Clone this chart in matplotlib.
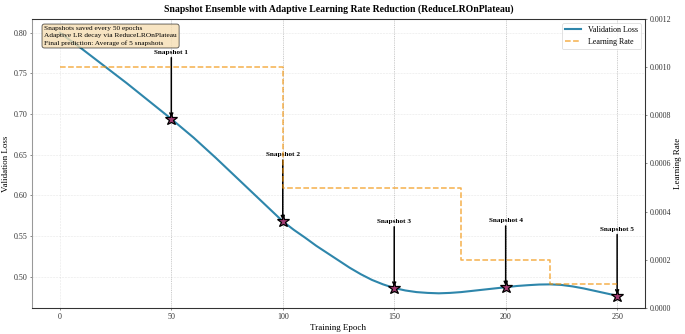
import matplotlib
matplotlib.use("Agg")
import matplotlib.pyplot as plt

plt.rcParams["font.family"] = ["Liberation Serif", "DejaVu Serif"]

# data
epochs = list(range(0, 251, 5))
val_loss = [
    0.800, 0.790, 0.780, 0.7695, 0.759, 0.7485, 0.738, 0.727, 0.716, 0.705,
    0.694, 0.6825, 0.671, 0.6585, 0.646, 0.633, 0.620, 0.607, 0.594, 0.581,
    0.568, 0.5575, 0.548, 0.538, 0.529, 0.520, 0.511, 0.503, 0.496, 0.4905,
    0.486, 0.483, 0.481, 0.480, 0.4795, 0.480, 0.481, 0.4825, 0.484, 0.4855,
    0.487, 0.4885, 0.4895, 0.4903, 0.4905, 0.4898, 0.488, 0.4855, 0.4825, 0.4795,
    0.4765,
]
lr_epochs = [0, 100, 180, 220, 250]
lr_values = [0.001, 0.0005, 0.0002, 0.0001, 0.0001]
snapshot_epochs = [50, 100, 150, 200, 250]
snapshot_labels = ["Snapshot 1", "Snapshot 2", "Snapshot 3", "Snapshot 4", "Snapshot 5"]

fig, ax = plt.subplots(figsize=(13.7, 6.68), dpi=50)
fig.subplots_adjust(left=0.0467, right=0.9416, top=0.943, bottom=0.078)

ax.plot(epochs, val_loss, color="#2E86AB", lw=3, label="Validation Loss", zorder=3)

ax2 = ax.twinx()
ax2.step(lr_epochs, lr_values, where="post", color="#F18F01", lw=2.2, ls="--",
         alpha=0.7, label="Learning Rate")
ax2.set_ylim(0, 0.0012)
ax2.set_ylabel("Learning Rate", fontsize=13)

# snapshot markers + labels
for ep, lab in zip(snapshot_epochs, snapshot_labels):
    y = val_loss[epochs.index(ep)]
    ax.axvline(ep, color="gray", ls=":", lw=1.2, alpha=0.5, zorder=1)
    ax.annotate(lab, xy=(ep, y), xytext=(ep, y + 0.08), ha="center",
                fontsize=10.5, fontweight="bold",
                arrowprops=dict(arrowstyle="->", color="black", lw=2.2), zorder=4)
    ax.plot(ep, y, marker="*", ms=19, color="#A23B72", mec="black", mew=1.8, zorder=5)

ax.set_xlim(-12.5, 262.5)
ax.set_ylim(0.4615, 0.8169)
ax.set_xticks([0, 50, 100, 150, 200, 250])
ax.set_xlabel("Training Epoch", fontsize=13)
ax.set_ylabel("Validation Loss", fontsize=13)
ax.set_title("Snapshot Ensemble with Adaptive Learning Rate Reduction (ReduceLROnPlateau)",
             fontsize=14, fontweight="bold", pad=10)
ax.grid(True, ls="--", alpha=0.3)

for a in (ax, ax2):
    a.tick_params(labelsize=11.5, colors="#333333")
    for side in ("top", "right", "bottom"):
        a.spines[side].set_color("#333333")
        a.spines[side].set_linewidth(1.5)
    a.spines["left"].set_color("#999999")
    a.spines["left"].set_linewidth(1.5)

ax.text(0.02, 0.975,
        "Snapshots saved every 50 epochs\nAdaptive LR decay via ReduceLROnPlateau\n"
        "Final prediction: Average of 5 snapshots",
        transform=ax.transAxes, va="top", fontsize=10.7, zorder=6, linespacing=1.45,
        bbox=dict(boxstyle="round", facecolor="wheat", alpha=0.8))

h1, l1 = ax.get_legend_handles_labels()
h2, l2 = ax2.get_legend_handles_labels()
ax2.legend(h1 + h2, l1 + l2, loc="upper right", fontsize=11.5)

fig.savefig("out.png", dpi=50)
